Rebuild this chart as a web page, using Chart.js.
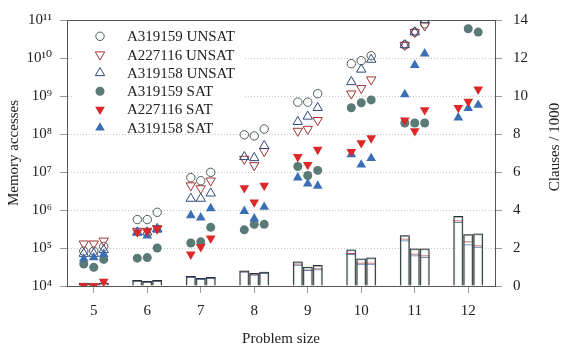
<!DOCTYPE html>
<html>
<head>
<meta charset="utf-8">
<script src="https://cdn.jsdelivr.net/npm/chart.js@4.4.1/dist/chart.umd.min.js"></script>
<style>
html,body{margin:0;padding:0;background:#fff;}
#wrap{width:579px;height:350px;}
</style>
</head>
<body>
<div id="wrap"><canvas id="c" width="579" height="350"></canvas></div>
<script>
// ---------------- data ----------------
const categories = [5, 6, 7, 8, 9, 10, 11, 12];
const leftTickExponents = [4, 5, 6, 7, 8, 9, 10, 11];
const rightTicks = [0, 2, 4, 6, 8, 10, 12, 14];
const seriesNames = ['A319159 UNSAT', 'A227116 UNSAT', 'A319158 UNSAT',
                     'A319159 SAT', 'A227116 SAT', 'A319158 SAT'];

// memory accesses, three runs per problem size (null = no value)
const a319159Unsat = [[8.3e4, 8.3e4, 1.1e5], [5.6e5, 5.6e5, 8.7e5], [7.1e6, 5.9e6, 9.8e6], [9.5e7, 8.9e7, 1.35e8],
                      [6.9e8, 6.9e8, 1.15e9], [7.1e9, 8.5e9, 1.15e10], [2.2e10, 4.8e10, 7.9e10], [null, null, null]];
const a227116Unsat = [[1.3e5, 1.3e5, 1.55e5], [2.8e5, 2.8e5, 3.3e5], [4.4e6, 3.7e6, 5.9e6], [2.2e7, 1.5e7, 3.5e7],
                      [1.2e8, 1.35e8, 2.3e8], [1.15e9, 1.6e9, 2.7e9], [2.2e10, 4.8e10, 7.1e10], [null, null, null]];
const a319158Unsat = [[7.1e4, 7.1e4, 8.9e4], [2.6e5, 2.6e5, 3.2e5], [2.0e6, 2.0e6, 2.75e6], [2.5e7, 2.35e7, 4.9e7],
                      [2.1e8, 2.9e8, 4.9e8], [2.35e9, 5.0e9, 9.1e9], [2.2e10, 4.8e10, 1.0e11], [null, null, null]];
const a319159Sat   = [[3.8e4, 3.1e4, 5.0e4], [5.4e4, 5.6e4, 1.0e5], [1.35e5, 1.45e5, 3.5e5], [3.0e5, 4.2e5, 4.2e5],
                      [1.4e7, 8.1e6, 1.1e7], [4.9e8, 6.6e8, 7.9e8], [1.95e8, 1.95e8, 1.95e8], [null, 5.9e10, 4.8e10]];
const a227116Sat   = [[1.0e4, 1.0e4, 1.3e4], [2.6e5, 2.75e5, 3.2e5], [6.8e4, 1.07e5, 1.8e5], [3.8e6, 1.6e6, 4.4e6],
                      [2.5e7, 1.55e7, 3.9e7], [3.4e7, 5.8e7, 7.8e7], [2.3e8, 1.2e8, 4.3e8], [4.9e8, 7.1e8, 1.5e9]];
const a319158Sat   = [[5.2e4, 5.6e4, 6.9e4], [2.5e5, 2.1e5, 3.0e5], [7.2e5, 6.3e5, 1.1e6], [9.3e5, 5.9e5, 1.2e6],
                      [7.1e6, 4.9e6, 4.3e6], [2.9e7, 1.55e7, 2.3e7], [1.1e9, 6.5e9, 1.3e10], [2.7e8, 4.8e8, 5.8e8]];

// clauses / 1000, three runs per problem size
const clausesA319159 = [[0.17, 0.14, 0.17], [0.31, 0.26, 0.31], [0.52, 0.42, 0.47], [0.82, 0.68, 0.75],
                        [1.29, 1.01, 1.10], [1.92, 1.45, 1.50], [2.67, 1.97, 1.97], [3.68, 2.72, 2.76]];
const clausesA227116 = [[0.15, 0.12, 0.15], [0.28, 0.23, 0.28], [0.49, 0.39, 0.44], [0.78, 0.62, 0.70],
                        [1.19, 0.87, 0.93], [1.74, 1.24, 1.24], [2.50, 1.71, 1.62], [3.46, 2.36, 2.15]];
const clausesA319158 = [[0.14, 0.11, 0.14], [0.27, 0.22, 0.27], [0.47, 0.37, 0.42], [0.76, 0.60, 0.68],
                        [1.12, 0.84, 0.88], [1.68, 1.17, 1.17], [2.41, 1.62, 1.53], [3.37, 2.20, 2.06]];

// ---------------- build ----------------
const SUB = 0.186; // horizontal offset between the three runs of one problem size
function toPoints(series) {
  const pts = [];
  series.forEach((runs, i) => runs.forEach((v, j) => {
    if (v !== null) pts.push({ x: categories[i] + (j - 1) * SUB, y: v });
  }));
  return pts;
}
const SUPS = '⁰¹²³⁴⁵⁶⁷⁸⁹';
function sup(n) { return String(n).split('').map(d => SUPS[+d]).join(''); }

const FONT = "'Liberation Serif', 'DejaVu Serif', serif";
Chart.defaults.font.family = FONT;
Chart.defaults.font.size = 15;
Chart.defaults.color = '#222';

const transparent = 'rgba(0,0,0,0)';
const scatterStyles = [
  { pointStyle: 'circle',   rotation: 0,   radius: 4.2, border: '#4d5959', bg: transparent, bw: 1 },
  { pointStyle: 'triangle', rotation: 180, radius: 5.4, border: '#a43434', bg: transparent, bw: 1 },
  { pointStyle: 'triangle', rotation: 0,   radius: 5.4, border: '#30497c', bg: transparent, bw: 1 },
  { pointStyle: 'circle',   rotation: 0,   radius: 4.5, border: '#5a7a77', bg: '#5a7a77', bw: 0 },
  { pointStyle: 'triangle', rotation: 180, radius: 5.6, border: '#dc2828', bg: '#dc2828', bw: 0 },
  { pointStyle: 'triangle', rotation: 0,   radius: 5.6, border: '#3a6fb6', bg: '#3a6fb6', bw: 0 }
];
const scatterSeries = [a319159Unsat, a227116Unsat, a319158Unsat, a319159Sat, a227116Sat, a319158Sat];
const scatterOrder = [6, 5, 4, 3, 1, 2];

const datasets = scatterSeries.map((s, k) => ({
  type: 'scatter',
  label: seriesNames[k],
  data: toPoints(s),
  xAxisID: 'x', yAxisID: 'y',
  pointStyle: scatterStyles[k].pointStyle,
  pointRotation: scatterStyles[k].rotation,
  pointRadius: scatterStyles[k].radius,
  pointBorderColor: scatterStyles[k].border,
  pointBackgroundColor: scatterStyles[k].bg,
  pointBorderWidth: scatterStyles[k].bw,
  order: scatterOrder[k]
}));

function barSet(series, opts) {
  return Object.assign({
    type: 'bar',
    data: toPoints(series),
    xAxisID: 'x', yAxisID: 'y2',
    grouped: false,
    barPercentage: 1, categoryPercentage: 1,
    inflateAmount: 0,
    borderSkipped: 'start'
  }, opts);
}
datasets.push(barSet(clausesA319159, { label: 'clauses A319159', backgroundColor: '#fff',
  borderColor: 'rgba(135,145,145,0.7)', borderWidth: 2, order: 20 }));
datasets.push(barSet(clausesA227116, { label: 'clauses A227116', backgroundColor: transparent,
  borderColor: 'rgba(170,60,60,0.85)', borderWidth: { top: 1, left: 0, right: 0, bottom: 0 }, order: 19 }));
datasets.push(barSet(clausesA319158, { label: 'clauses A319158', backgroundColor: transparent,
  borderColor: 'rgba(80,110,170,0.85)', borderWidth: { top: 1, left: 0, right: 0, bottom: 0 }, order: 18 }));
datasets.push(barSet(clausesA319159, { label: 'clauses A319159 edge', backgroundColor: transparent,
  borderColor: '#263434', borderWidth: 1, order: 17 }));

// ---------------- plugins ----------------
function drawMarker(ctx, st, x, y) {
  ctx.save();
  ctx.beginPath();
  if (st.pointStyle === 'circle') {
    ctx.arc(x, y, st.radius, 0, Math.PI * 2);
  } else {
    let rad = st.rotation * Math.PI / 180;
    for (let i = 0; i < 3; i++) {
      const px = x + Math.sin(rad) * st.radius, py = y - Math.cos(rad) * st.radius;
      if (i === 0) ctx.moveTo(px, py); else ctx.lineTo(px, py);
      rad += 2 * Math.PI / 3;
    }
    ctx.closePath();
  }
  ctx.fillStyle = st.bg;
  ctx.fill();
  if (st.bw > 0) { ctx.lineWidth = st.bw; ctx.strokeStyle = st.border; ctx.stroke(); }
  ctx.restore();
}

const insideLegend = {
  id: 'insideLegend',
  beforeDatasetsDraw(chart) {
    const ctx = chart.ctx;
    const a = chart.chartArea;
    ctx.save();
    ctx.fillStyle = '#fff';
    ctx.fillRect(a.left + 6, a.top + 6, 172, 107);
    ctx.font = '15px ' + FONT;
    ctx.textAlign = 'left';
    ctx.textBaseline = 'middle';
    seriesNames.forEach((name, i) => {
      const y = a.top + 16.3 + i * 18.3;
      drawMarker(ctx, scatterStyles[i], a.left + 33, y);
      ctx.fillStyle = '#222';
      ctx.fillText(name, a.left + 60, y + 1);
    });
    ctx.restore();
  }
};

const rightTitle = {
  id: 'rightTitle',
  afterDraw(chart) {
    const ctx = chart.ctx;
    ctx.save();
    ctx.translate(555, (chart.chartArea.top + chart.chartArea.bottom) / 2 - 6);
    ctx.rotate(-Math.PI / 2);
    ctx.font = '15px ' + FONT;
    ctx.fillStyle = '#222';
    ctx.textAlign = 'center';
    ctx.textBaseline = 'middle';
    ctx.fillText('Clauses / 1000', 0, 0);
    ctx.restore();
  }
};

// ---------------- chart ----------------
new Chart(document.getElementById('c'), {
  type: 'scatter',
  data: { datasets },
  plugins: [insideLegend, rightTitle],
  options: {
    responsive: false,
    animation: false,
    events: [],
    layout: { padding: { top: 18, left: 0, right: 0, bottom: 0 } },
    plugins: { legend: { display: false }, tooltip: { enabled: false } },
    scales: {
      x: {
        type: 'linear', position: 'bottom', min: 4.5, max: 12.5,
        offset: false,
        afterBuildTicks: s => { s.ticks = categories.map(v => ({ value: v })); },
        afterFit: s => { s.height = 64; },
        ticks: { callback: v => String(v), padding: 9, autoSkip: false, maxRotation: 0 },
        grid: { offset: false, drawOnChartArea: false, tickLength: 7, tickColor: '#9a9a9a' },
        border: { color: '#555', width: 1 },
        title: { display: true, text: 'Problem size', padding: { top: 0, bottom: 2 }, font: { size: 15 } }
      },
      y: {
        type: 'logarithmic', position: 'left', min: 1e4, max: 1e11,
        afterBuildTicks: s => { s.ticks = leftTickExponents.map(e => ({ value: Math.pow(10, e) })); },
        afterFit: s => { s.width = 67; },
        ticks: {
          callback: v => '10' + sup(Math.round(Math.log10(v))),
          padding: 8, autoSkip: false
        },
        grid: {
          color: c => {
            const v = c.tick ? c.tick.value : 0;
            if (v >= 1e11) return '#555';
            if (v <= 1e4) return transparent;
            return '#c4c4c4';
          },
          tickLength: 7, tickColor: '#9a9a9a', lineWidth: 1
        },
        border: { color: '#555', width: 1, dash: c => (c.tick && c.tick.value >= 1e11) ? [] : [1, 2] },
        title: { display: true, text: 'Memory accesses', padding: { top: 5, bottom: 0 }, font: { size: 15 } }
      },
      y2: {
        type: 'linear', position: 'right', min: 0, max: 14, stacked: false,
        afterBuildTicks: s => { s.ticks = rightTicks.map(v => ({ value: v })); },
        afterFit: s => { s.width = 84; },
        ticks: { callback: v => String(v), padding: 11, autoSkip: false },
        grid: { drawOnChartArea: false, tickLength: 7, tickColor: '#9a9a9a' },
        border: { color: '#555', width: 1 },
        title: { display: false }
      }
    }
  }
});
</script>
</body>
</html>
